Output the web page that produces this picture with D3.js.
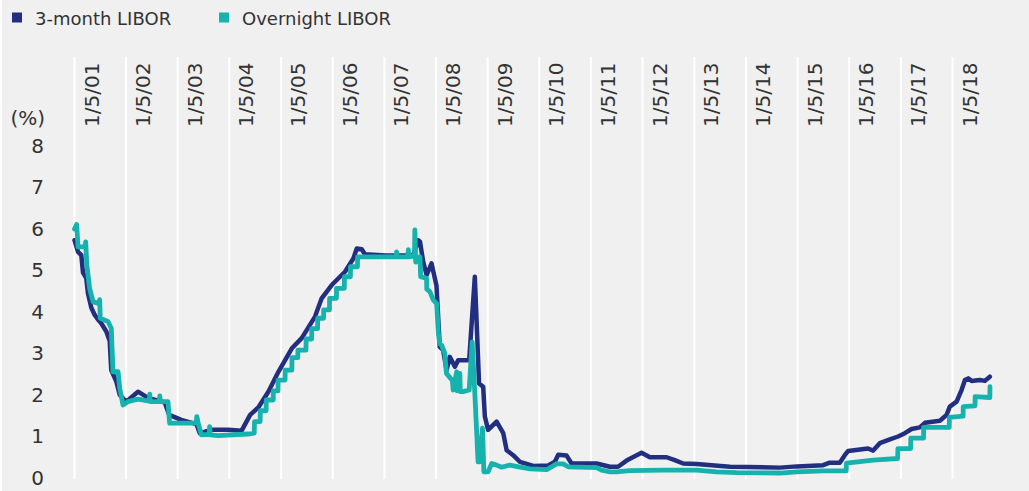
<!DOCTYPE html>
<html>
<head>
<meta charset="utf-8">
<script src="https://cdn.jsdelivr.net/npm/d3@7"></script>
<style>
  html, body { margin: 0; padding: 0; background: #f0f0f0; }
  svg { display: block; }
  text { font-family: "DejaVu Sans", sans-serif; fill: #333; }
</style>
</head>
<body>
<div id="chart"></div>
<script>
// year gridlines and their labels
var tickDates = ["2001-01-05", "2002-01-05", "2003-01-05", "2004-01-05", "2005-01-05", "2006-01-05",
    "2007-01-05", "2008-01-05", "2009-01-05", "2010-01-05", "2011-01-05", "2012-01-05",
    "2013-01-05", "2014-01-05", "2015-01-05", "2016-01-05", "2017-01-05", "2018-01-05"];
var tickLabels = ["1/5/01", "1/5/02", "1/5/03", "1/5/04", "1/5/05", "1/5/06", "1/5/07", "1/5/08", "1/5/09",
    "1/5/10", "1/5/11", "1/5/12", "1/5/13", "1/5/14", "1/5/15", "1/5/16", "1/5/17", "1/5/18"];
var yTicks = [0, 1, 2, 3, 4, 5, 6, 7, 8];
var seriesNames = ["3-month LIBOR", "Overnight LIBOR"];

// 3-month LIBOR (%)
var threeMonth = [
    ["2001-01-05", 5.73], ["2001-01-30", 5.45], ["2001-02-22", 5.37], ["2001-03-06", 4.95],
    ["2001-03-29", 4.82], ["2001-04-10", 4.45], ["2001-05-04", 4.10], ["2001-05-28", 3.93],
    ["2001-06-20", 3.82], ["2001-07-13", 3.73], ["2001-08-18", 3.53], ["2001-09-11", 3.30],
    ["2001-09-22", 2.60], ["2001-10-28", 2.32], ["2001-11-21", 2.00], ["2002-01-06", 1.84],
    ["2002-03-30", 2.08], ["2002-06-09", 1.93], ["2002-10-05", 1.82], ["2002-11-06", 1.52],
    ["2003-01-30", 1.40], ["2003-05-17", 1.30], ["2003-06-10", 1.08], ["2003-08-31", 1.16],
    ["2003-12-27", 1.16], ["2004-04-01", 1.14], ["2004-05-31", 1.52], ["2004-07-28", 1.70],
    ["2004-10-07", 2.08], ["2004-12-17", 2.56], ["2005-03-21", 3.12], ["2005-05-31", 3.37],
    ["2005-09-02", 3.89], ["2005-10-19", 4.33], ["2005-12-29", 4.65], ["2006-04-02", 4.97],
    ["2006-05-31", 5.29], ["2006-06-24", 5.53], ["2006-07-29", 5.51], ["2006-08-21", 5.39],
    ["2007-01-15", 5.36], ["2007-07-28", 5.36], ["2007-09-02", 5.73], ["2007-09-14", 5.70],
    ["2007-10-07", 5.21], ["2007-10-31", 4.89], ["2007-12-05", 5.17], ["2008-01-09", 4.63],
    ["2008-02-01", 3.16], ["2008-02-25", 3.08], ["2008-03-20", 2.60], ["2008-04-12", 2.92],
    ["2008-05-18", 2.68], ["2008-06-10", 2.84], ["2008-08-27", 2.84], ["2008-10-06", 4.85],
    ["2008-11-05", 2.28], ["2008-12-04", 2.20], ["2008-12-16", 1.48], ["2009-01-08", 1.16],
    ["2009-03-09", 1.36], ["2009-04-25", 1.08], ["2009-05-19", 0.67], ["2009-07-04", 0.55],
    ["2009-08-21", 0.39], ["2009-11-23", 0.29], ["2010-03-09", 0.30], ["2010-04-25", 0.39],
    ["2010-05-19", 0.56], ["2010-07-17", 0.54], ["2010-08-21", 0.35], ["2011-02-14", 0.35],
    ["2011-05-19", 0.27], ["2011-07-16", 0.27], ["2011-09-14", 0.42], ["2011-12-29", 0.61],
    ["2012-02-26", 0.50], ["2012-06-23", 0.50], ["2012-08-20", 0.43], ["2012-10-18", 0.35],
    ["2013-01-21", 0.34], ["2013-09-14", 0.27], ["2014-09-02", 0.25], ["2015-01-01", 0.28],
    ["2015-07-05", 0.31], ["2015-08-21", 0.37], ["2015-10-31", 0.37], ["2015-12-05", 0.55],
    ["2015-12-29", 0.65], ["2016-05-18", 0.71], ["2016-06-23", 0.66], ["2016-08-09", 0.84],
    ["2016-10-19", 0.93], ["2016-12-16", 1.00], ["2017-02-02", 1.08], ["2017-03-22", 1.18],
    ["2017-05-19", 1.22], ["2017-06-24", 1.33], ["2017-10-08", 1.38], ["2017-11-24", 1.52],
    ["2017-12-17", 1.72], ["2018-02-03", 1.84], ["2018-03-10", 2.12], ["2018-04-03", 2.36],
    ["2018-04-26", 2.40], ["2018-05-20", 2.34], ["2018-07-18", 2.36], ["2018-08-22", 2.34],
    ["2018-09-26", 2.44]
];

// Overnight LIBOR (%)
var overnight = [
    ["2001-01-05", 6.00], ["2001-01-20", 6.11], ["2001-01-30", 5.57], ["2001-03-18", 5.57],
    ["2001-03-25", 5.69], ["2001-04-02", 5.13], ["2001-04-22", 4.57], ["2001-05-16", 4.25],
    ["2001-06-28", 4.20], ["2001-07-02", 4.30], ["2001-07-06", 3.85], ["2001-08-30", 3.77],
    ["2001-09-22", 3.61], ["2001-10-04", 2.56], ["2001-11-09", 2.56], ["2001-11-21", 2.16],
    ["2001-12-14", 1.76], ["2002-01-18", 1.84], ["2002-03-30", 1.90], ["2002-06-18", 1.85],
    ["2002-06-21", 2.02], ["2002-06-25", 1.84], ["2002-08-28", 1.84], ["2002-08-31", 1.98],
    ["2002-09-04", 1.84], ["2002-10-28", 1.84], ["2002-11-09", 1.32], ["2003-05-16", 1.33],
    ["2003-05-20", 1.48], ["2003-05-29", 1.33], ["2003-06-21", 1.04], ["2003-08-15", 1.05],
    ["2003-08-19", 1.24], ["2003-08-23", 1.04], ["2003-10-17", 1.02], ["2004-05-16", 1.06],
    ["2004-06-29", 1.08], ["2004-07-01", 1.36], ["2004-08-10", 1.36], ["2004-08-11", 1.62],
    ["2004-09-21", 1.62], ["2004-09-22", 1.88], ["2004-11-10", 1.88], ["2004-11-11", 2.10],
    ["2004-12-14", 2.10], ["2004-12-15", 2.36], ["2005-02-02", 2.36], ["2005-02-03", 2.60],
    ["2005-03-22", 2.60], ["2005-03-23", 2.90], ["2005-05-03", 2.90], ["2005-05-04", 3.08],
    ["2005-06-30", 3.08], ["2005-07-01", 3.35], ["2005-08-09", 3.35], ["2005-08-10", 3.60],
    ["2005-09-20", 3.60], ["2005-09-21", 3.85], ["2005-11-01", 3.85], ["2005-11-02", 4.05],
    ["2005-12-13", 4.05], ["2005-12-14", 4.33], ["2006-01-31", 4.33], ["2006-02-01", 4.57],
    ["2006-03-28", 4.57], ["2006-03-29", 4.85], ["2006-05-10", 4.85], ["2006-05-11", 5.09],
    ["2006-06-29", 5.09], ["2006-06-30", 5.33], ["2007-03-28", 5.33], ["2007-04-02", 5.45],
    ["2007-04-05", 5.33], ["2007-06-20", 5.33], ["2007-06-24", 5.50], ["2007-06-27", 5.33],
    ["2007-08-06", 5.35], ["2007-08-09", 5.98], ["2007-08-15", 5.20], ["2007-09-14", 5.33],
    ["2007-09-19", 4.85], ["2007-10-31", 4.81], ["2007-11-01", 4.55], ["2007-11-23", 4.49],
    ["2007-12-17", 4.29], ["2008-01-10", 4.20], ["2008-01-22", 3.50], ["2008-01-31", 3.24],
    ["2008-02-14", 3.20], ["2008-03-08", 3.00], ["2008-03-19", 2.52], ["2008-04-30", 2.35],
    ["2008-05-06", 2.12], ["2008-05-31", 2.56], ["2008-06-03", 2.10], ["2008-06-22", 2.52],
    ["2008-06-25", 2.08], ["2008-07-15", 2.08], ["2008-08-27", 2.12], ["2008-09-17", 3.28],
    ["2008-10-06", 2.04], ["2008-10-29", 0.39], ["2008-11-10", 0.39], ["2008-11-29", 1.20],
    ["2008-12-09", 0.15], ["2009-01-08", 0.15], ["2009-02-02", 0.35], ["2009-03-09", 0.31],
    ["2009-04-13", 0.26], ["2009-06-11", 0.31], ["2009-08-21", 0.26], ["2009-11-01", 0.22],
    ["2010-02-26", 0.20], ["2010-05-07", 0.34], ["2010-06-23", 0.34], ["2010-07-28", 0.27],
    ["2011-02-14", 0.25], ["2011-03-21", 0.19], ["2011-05-19", 0.15], ["2011-07-05", 0.15],
    ["2011-10-07", 0.18], ["2012-05-31", 0.19], ["2013-01-21", 0.19], ["2013-06-12", 0.15],
    ["2013-10-31", 0.13], ["2014-09-02", 0.12], ["2015-01-01", 0.15], ["2015-07-05", 0.17],
    ["2015-12-15", 0.17], ["2015-12-17", 0.36], ["2016-06-23", 0.43], ["2016-12-13", 0.47],
    ["2016-12-15", 0.71], ["2017-03-15", 0.71], ["2017-03-16", 0.96], ["2017-06-14", 0.96],
    ["2017-06-15", 1.22], ["2017-12-13", 1.22], ["2017-12-14", 1.46], ["2018-03-21", 1.49],
    ["2018-03-22", 1.72], ["2018-06-13", 1.74], ["2018-06-14", 1.96], ["2018-09-26", 1.94],
    ["2018-09-27", 2.20]
];

var colors = ["#222f80", "#16b2ad"];

var W = 1029, H = 491;
var parse = d3.timeParse("%Y-%m-%d");

var svg = d3.select("#chart")
    .append("svg")
        .attr("width", W)
        .attr("height", H);

svg.append("rect")
    .attr("width", W).attr("height", H)
    .attr("fill", "#f0f0f0");
// thin white strip on the left edge
svg.append("rect")
    .attr("width", 2).attr("height", H)
    .attr("fill", "#ffffff");

var x = d3.scaleTime()
    .domain([parse("2001-01-05"), parse("2018-01-05")])
    .range([74.5, 952.5]);

var y = d3.scaleLinear()
    .domain([0, 8])
    .range([478, 146]);

// vertical year gridlines
svg.append("g")
    .selectAll("line")
    .data(tickDates)
    .enter().append("line")
        .attr("x1", d => x(parse(d)))
        .attr("x2", d => x(parse(d)))
        .attr("y1", 57)
        .attr("y2", 479)
        .attr("stroke", "#ffffff")
        .attr("stroke-width", 2);

// rotated date labels
svg.append("g")
    .selectAll("text")
    .data(tickDates)
    .enter().append("text")
        .attr("transform", d => "translate(" + (x(parse(d)) + 17) + ",127) rotate(-90)")
        .attr("dy", "0.35em")
        .style("font-size", "20px")
        .style("text-anchor", "start")
        .text((d, i) => tickLabels[i]);

// y axis
var yAxis = svg.append("g")
    .attr("transform", "translate(44,0)")
    .call(d3.axisLeft(y).tickValues(yTicks).tickSize(0).tickPadding(0));
yAxis.select(".domain").remove();
yAxis.selectAll("text")
    .style("font-size", "20px")
    .style("font-family", "DejaVu Sans, sans-serif")
    .attr("fill", "#333");

svg.append("text")
    .attr("x", 45)
    .attr("y", 118)
    .attr("dy", "0.35em")
    .style("text-anchor", "end")
    .style("font-size", "20px")
    .text("(%)");

// lines
var line = d3.line()
    .x(d => x(parse(d[0])))
    .y(d => y(d[1]));

svg.append("path")
    .datum(threeMonth)
    .attr("d", line)
    .attr("fill", "none")
    .attr("stroke", colors[0])
    .attr("stroke-width", 4.5)
    .attr("stroke-linejoin", "round")
    .attr("stroke-linecap", "round");

svg.append("path")
    .datum(overnight)
    .attr("d", line)
    .attr("fill", "none")
    .attr("stroke", colors[1])
    .attr("stroke-width", 4.8)
    .attr("stroke-linejoin", "round")
    .attr("stroke-linecap", "round");

// legend
var legendX = [12, 219];
var legend = svg.append("g")
    .selectAll("g")
    .data(seriesNames)
    .enter().append("g")
        .attr("transform", (d, i) => "translate(" + legendX[i] + ",0)");

legend.append("rect")
    .attr("y", 12.5)
    .attr("width", 10)
    .attr("height", 10)
    .attr("fill", (d, i) => colors[i]);

legend.append("text")
    .attr("x", 23)
    .attr("y", 25)
    .style("font-size", "18px")
    .text(d => d);
</script>
</body>
</html>
